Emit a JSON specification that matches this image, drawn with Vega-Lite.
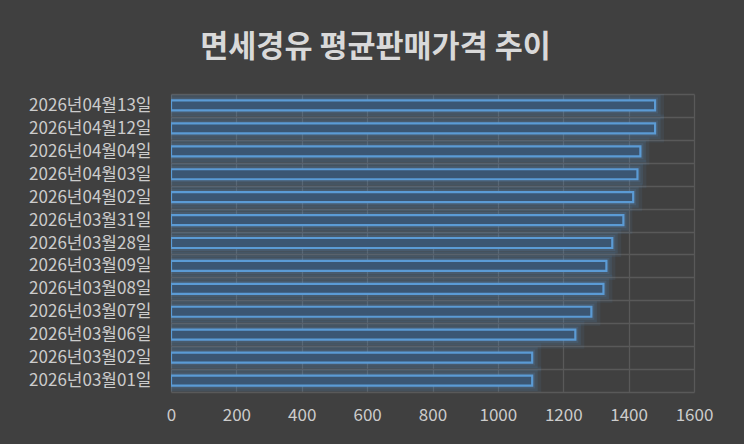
{
  "$schema": "https://vega.github.io/schema/vega-lite/v6.json",
  "width": 523,
  "height": 298,
  "autosize": {"type": "none"},
  "padding": {"left": 171, "top": 94, "right": 50, "bottom": 52},
  "background": "#404040",
  "title": {
    "text": "면세경유 평균판매가격 추이",
    "font": "Noto Sans CJK KR",
    "fontSize": 30.5,
    "fontWeight": "bold",
    "color": "#d9d9d9",
    "anchor": "middle",
    "frame": "group",
    "dx": -57,
    "offset": 22
  },
  "config": {
    "view": {"stroke": null},
    "axis": {"labelFont": "Noto Sans CJK KR", "labelColor": "#cccccc", "labelFontSize": 17, "gridColor": "#595959", "gridWidth": 1.3, "gridOpacity": 1, "domain": false, "ticks": false, "title": null}
  },
  "data": {
    "values": [
      {"date": "2026년04월13일", "price": 1481},
      {"date": "2026년04월12일", "price": 1481},
      {"date": "2026년04월04일", "price": 1436},
      {"date": "2026년04월03일", "price": 1427},
      {"date": "2026년04월02일", "price": 1414},
      {"date": "2026년03월31일", "price": 1384},
      {"date": "2026년03월28일", "price": 1350},
      {"date": "2026년03월09일", "price": 1332},
      {"date": "2026년03월08일", "price": 1323},
      {"date": "2026년03월07일", "price": 1286},
      {"date": "2026년03월06일", "price": 1237},
      {"date": "2026년03월02일", "price": 1105},
      {"date": "2026년03월01일", "price": 1105}
    ]
  },
  "encoding": {
    "y": {
      "field": "date",
      "type": "nominal",
      "sort": null,
      "scale": {"paddingInner": 0, "paddingOuter": 0},
      "axis": {"grid": true, "tickBand": "extent", "labelPadding": 20}
    },
    "x": {
      "field": "price",
      "type": "quantitative",
      "scale": {"domain": [0, 1600], "nice": false},
      "axis": {"values": [0, 200, 400, 600, 800, 1000, 1200, 1400, 1600], "format": "d", "grid": true, "labelPadding": 15, "labelFlush": false}
    }
  },
  "layer": [
    {"mark": {"type": "bar", "size": 10, "fill": null, "fillOpacity": 0, "stroke": "#5b9bd5", "strokeWidth": 18, "strokeOpacity": 0.08, "clip": true}},
    {"mark": {"type": "bar", "size": 10, "fill": null, "fillOpacity": 0, "stroke": "#5b9bd5", "strokeWidth": 11, "strokeOpacity": 0.12, "clip": true}},
    {"mark": {"type": "bar", "size": 10, "fill": null, "fillOpacity": 0, "stroke": "#5b9bd5", "strokeWidth": 6, "strokeOpacity": 0.15, "clip": true}},
    {"mark": {"type": "bar", "size": 10, "fill": "#3b5673", "fillOpacity": 1, "stroke": "#5b9bd5", "strokeWidth": 2.2, "clip": true}}
  ]
}
